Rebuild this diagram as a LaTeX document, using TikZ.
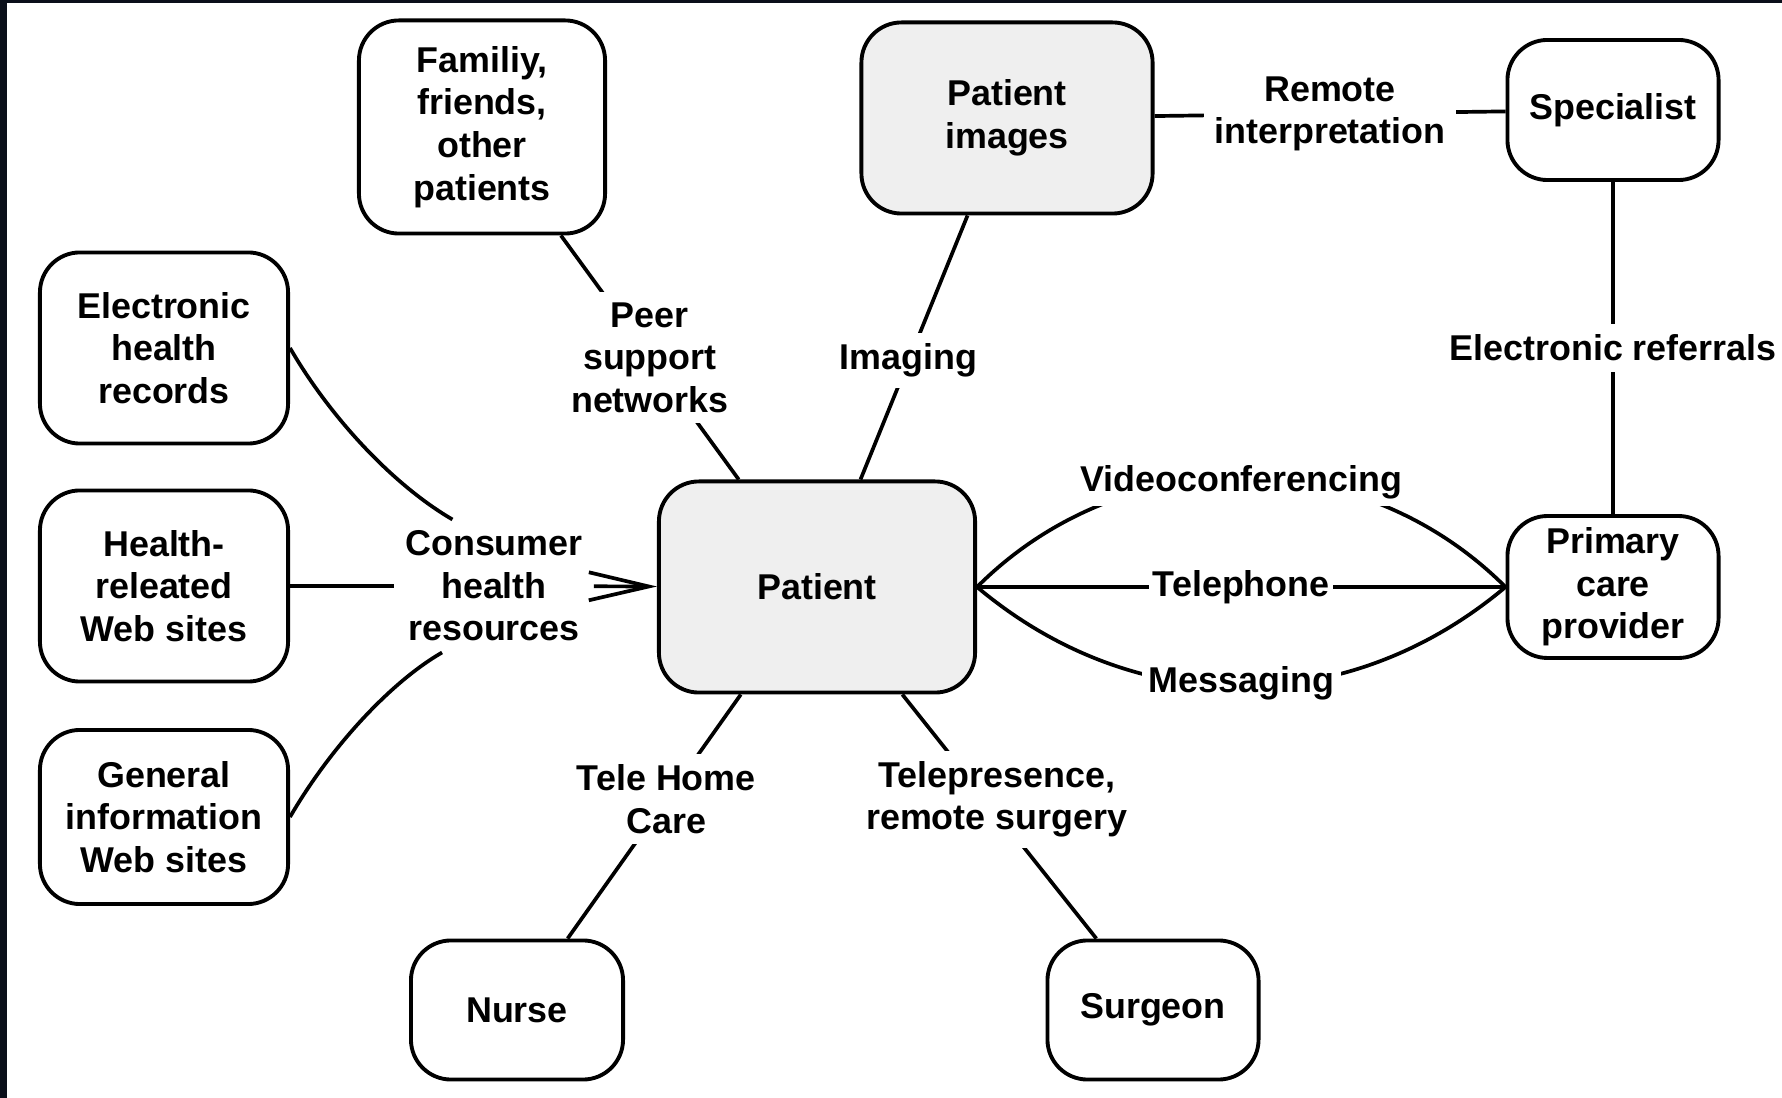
\documentclass[tikz,border=0pt]{standalone}
\usepackage{fontspec}
\setmainfont{Liberation Sans}
\usetikzlibrary{arrows.meta}

\definecolor{boxgray}{RGB}{239,239,239}
\definecolor{frame}{RGB}{10,15,26}

\tikzset{
  box/.style={draw,line width=1.1pt,rounded corners=0.4cm,align=center,fill=white},
  graybox/.style={box,fill=boxgray},
  lbl/.style={fill=white,align=center,inner sep=3pt},
  link/.style={line width=1.05pt},
}

\begin{document}
\begin{tikzpicture}[x=0.01cm,y=-0.01cm,every node/.style={font=\bfseries\fontsize{10.2}{12.1}\selectfont}]
  \useasboundingbox (0,0) rectangle (1782,1098);
  \fill[white] (0,0) rectangle (1782,1098);
  \fill[frame] (0,0) rectangle (1782,3.5);
  \fill[frame] (0,0) rectangle (7,1098);

  \node (family) at (482,127) [box,minimum width=2.46cm,minimum height=2.13cm]{Familiy,\\friends,\\other\\patients};
  \node (images) at (1007,118) [graybox,minimum width=2.91cm,minimum height=1.91cm]{Patient\\images};
  \node (specialist) at (1613,110) [box,minimum width=2.11cm,minimum height=1.40cm]{Specialist};

  \node (ehr) at (164,348) [box,minimum width=2.48cm,minimum height=1.91cm]{Electronic\\health\\records};
  \node (hrw) at (164,586) [box,minimum width=2.48cm,minimum height=1.91cm]{Health-\\releated\\Web sites};
  \node (giw) at (164,817) [box,minimum width=2.48cm,minimum height=1.74cm]{General\\information\\Web sites};

  \node (patient) at (817,587) [graybox,minimum width=3.16cm,minimum height=2.11cm]{Patient};
  \node (primary) at (1613,587) [box,minimum width=2.11cm,minimum height=1.39cm]{Primary\\care\\provider};

  \node (nurse) at (517,1010) [box,minimum width=2.12cm,minimum height=1.39cm]{Nurse};
  \node (surgeon) at (1153,1010) [box,minimum width=2.11cm,minimum height=1.39cm]{Surgeon};

  \node (consumer) at (494,586) [lbl]{Consumer\\health\\resources};

  \draw[link] (ehr.east) .. controls +(40,69) and +(-60,-35) .. (consumer.122);
  \draw[link] (hrw) -- (consumer);
  \draw[link] (giw.east) .. controls +(40,-69) and +(-52,30) .. (consumer.232);
  \draw[link,-{Straight Barb[length=0.6cm,width=0.28cm]}] (consumer) -- (patient);

  \draw[link] (family) -- node[lbl]{Peer\\support\\networks} (patient);
  \draw[link] (images) -- node[lbl,pos=0.55]{Imaging} (patient);
  \draw[link] (images) -- node[lbl]{Remote\\interpretation} (specialist);
  \draw[link] (specialist) -- node[lbl]{Electronic referrals} (primary);

  \draw[link] (patient.east) .. controls +(146,-146) and +(-146,-146) .. (primary.west)
    node[lbl,pos=0.5,yshift=-0.5mm,inner sep=2pt]{Videoconferencing};
  \draw[link] (patient) -- node[lbl,inner xsep=1pt]{Telephone} (primary);
  \draw[link] (patient.east) .. controls +(158,133) and +(-158,133) .. (primary.west)
    node[lbl,pos=0.5,yshift=0.3mm,inner sep=2pt]{Messaging};

  \draw[link] (patient) -- node[lbl,pos=0.43]{Tele Home\\Care} (nurse);
  \draw[link] (patient) -- node[lbl,pos=0.43,xshift=1.1mm]{Telepresence,\\remote surgery} (surgeon);

\end{tikzpicture}
\end{document}
